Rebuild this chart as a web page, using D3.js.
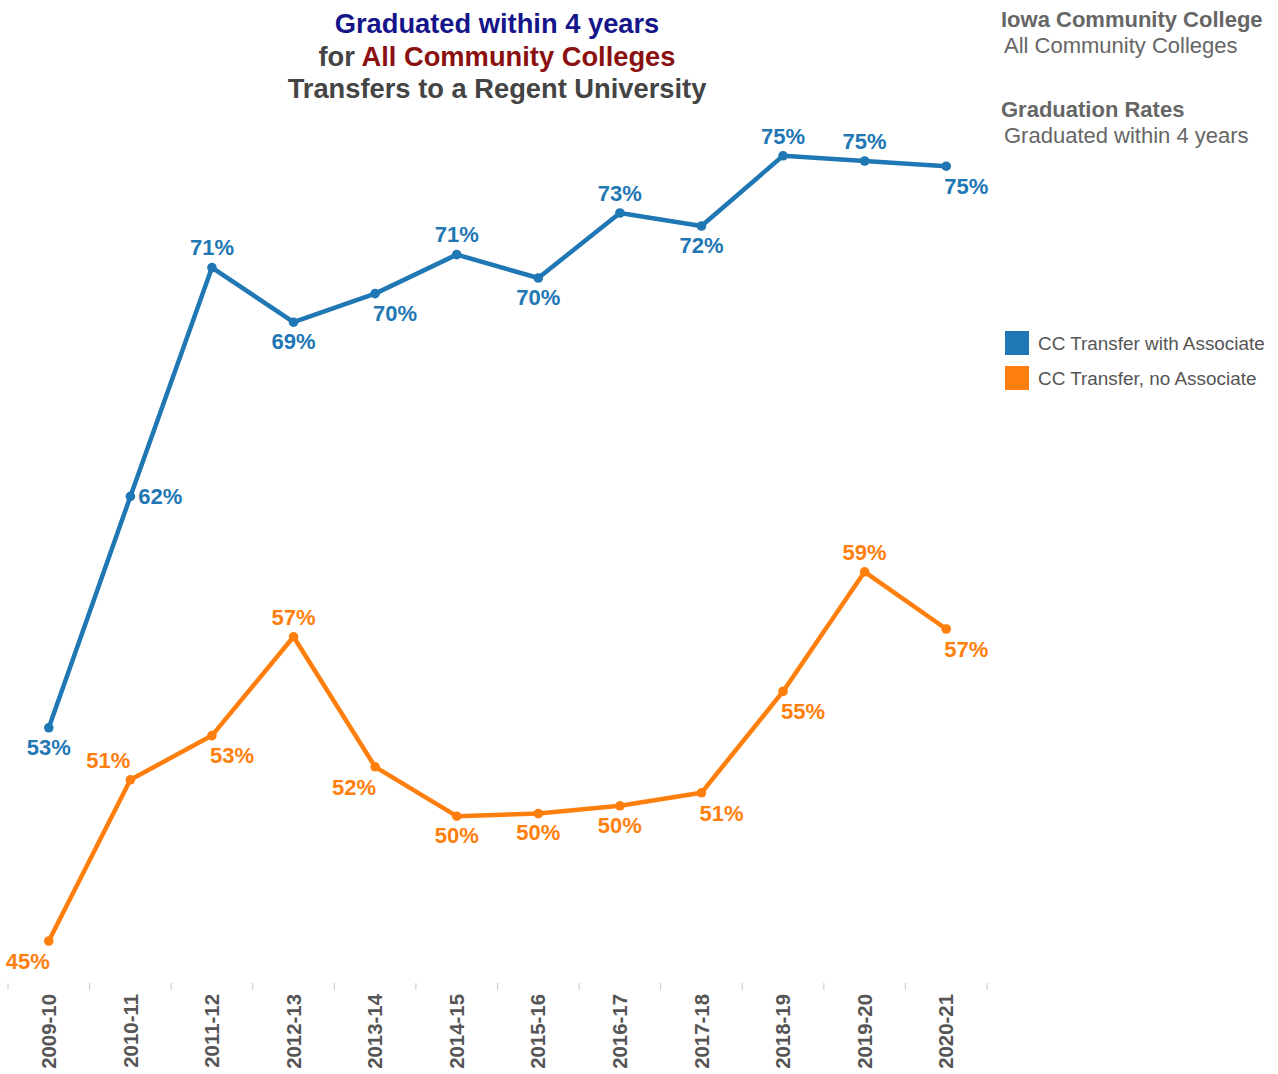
<!DOCTYPE html>
<html>
<head>
<meta charset="utf-8">
<script src="https://cdn.jsdelivr.net/npm/d3@7/dist/d3.min.js"></script>
<style>
html,body{margin:0;padding:0;background:#fff;}
svg{display:block;font-family:"Liberation Sans",Arial,sans-serif;}
</style>
</head>
<body>
<svg id="chart" width="1278" height="1074"></svg>
<script>
// ---- data ----
const years = ["2009-10","2010-11","2011-12","2012-13","2013-14","2014-15","2015-16","2016-17","2017-18","2018-19","2019-20","2020-21"];
const withAssociate = [53.1, 62.0, 70.8, 68.7, 69.8, 71.3, 70.4, 72.9, 72.4, 75.1, 74.9, 74.7];
const noAssociate   = [44.9, 51.1, 52.8, 56.6, 51.6, 49.7, 49.8, 50.1, 50.6, 54.5, 59.1, 56.9];
const seriesNames = ["CC Transfer with Associate", "CC Transfer, no Associate"];
// label placement keywords (Tableau-style placement)
const placeWith = ["below","right","above","below","belowright","above","below","above","below","above","above","belowright"];
const placeNo   = ["belowleft","aboveleft","belowright","above","belowleft","below","below","below","belowright","belowright","above","belowright"];

const colors = ["#1f77b4", "#ff7f0e"];

const svg = d3.select("#chart");

const x = d3.scaleBand().domain(years).range([8, 987]);
const y = d3.scaleLinear().domain([40, 80]).range([1068.4, 28.4]);
const cx = d => x(d) + x.bandwidth() / 2;

// ---- titles ----
const title = svg.append("text").attr("text-anchor", "middle")
  .attr("font-weight", "bold").attr("font-size", 27.3);
title.append("tspan").attr("x", 497).attr("y", 33).attr("fill", "#15158a").text("Graduated within 4 years");
const t2 = title.append("tspan").attr("x", 497).attr("y", 66);
t2.append("tspan").attr("fill", "#444").text("for ");
t2.append("tspan").attr("fill", "#8b1111").text("All Community Colleges");
title.append("tspan").attr("x", 497).attr("y", 98).attr("fill", "#444").text("Transfers to a Regent University");

const side = svg.append("g").attr("fill", "#666").attr("font-size", 22);
side.append("text").attr("x", 1001).attr("y", 27).attr("font-weight", "bold").text("Iowa Community College");
side.append("text").attr("x", 1004).attr("y", 53).text("All Community Colleges");
side.append("text").attr("x", 1001).attr("y", 117).attr("font-weight", "bold").text("Graduation Rates");
side.append("text").attr("x", 1004).attr("y", 143).text("Graduated within 4 years");

// ---- legend ----
const leg = svg.append("g");
seriesNames.forEach((n, i) => {
  leg.append("rect").attr("x", 1005).attr("y", 331 + i * 35).attr("width", 24).attr("height", 24).attr("fill", colors[i]);
  leg.append("text").attr("x", 1038).attr("y", 343 + i * 35).attr("dy", "0.35em")
    .attr("font-size", 18.9).attr("fill", "#555").text(n);
});

// ---- x axis ----
const axis = svg.append("g");
const edges = years.map(d => x(d)).concat([x(years[years.length - 1]) + x.bandwidth()]);
axis.selectAll("line.tick").data(edges).join("line")
  .attr("x1", d => d).attr("x2", d => d).attr("y1", 983).attr("y2", 990)
  .attr("stroke", "#c8c8c8").attr("stroke-width", 1);
axis.selectAll("text").data(years).join("text")
  .attr("transform", d => `translate(${cx(d)},994) rotate(-90)`)
  .attr("text-anchor", "end").attr("dy", "0.35em")
  .attr("font-size", 20.4).attr("font-weight", "bold").attr("fill", "#555")
  .text(d => d);

// ---- lines ----
const line = d3.line().x((d, i) => cx(years[i])).y(d => y(d));
const allSeries = [withAssociate, noAssociate];
const places = [placeWith, placeNo];

allSeries.forEach((vals, si) => {
  const g = svg.append("g");
  g.append("path").datum(vals).attr("d", line)
    .attr("fill", "none").attr("stroke", colors[si]).attr("stroke-width", 4.5)
    .attr("stroke-linejoin", "round");
  g.selectAll("circle").data(vals).join("circle")
    .attr("cx", (d, i) => cx(years[i])).attr("cy", d => y(d)).attr("r", 4.8)
    .attr("fill", colors[si]);
  const off = {
    above: [0, -20], below: [0, 19], right: [30, 0],
    belowright: [20, 20], belowleft: [-21, 20], aboveleft: [-22, -20]
  };
  g.selectAll("text").data(vals).join("text")
    .attr("x", (d, i) => cx(years[i]) + off[places[si][i]][0])
    .attr("y", (d, i) => y(d) + off[places[si][i]][1])
    .attr("dy", "0.35em").attr("text-anchor", "middle")
    .attr("font-size", 22).attr("font-weight", "bold").attr("fill", colors[si])
    .text(d => Math.round(d) + "%");
});
</script>
</body>
</html>
